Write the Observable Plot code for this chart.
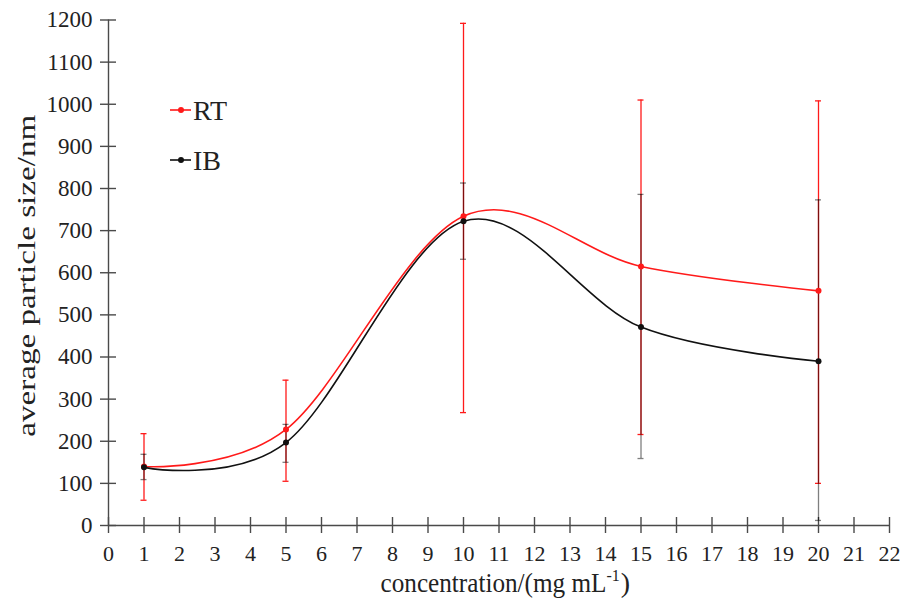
<!DOCTYPE html>
<html>
<head>
<meta charset="utf-8">
<script src="https://cdn.jsdelivr.net/npm/d3@7"></script>
<script src="https://cdn.jsdelivr.net/npm/@observablehq/plot@0.6"></script>
<style>
  html, body { margin: 0; padding: 0; background: #fff; }
  #wrap { position: relative; width: 914px; height: 598px; }
  #legend { position: absolute; left: 0; top: 0; }
  svg text { font-family: "Liberation Serif", "Times New Roman", serif !important; }
</style>
</head>
<body>
<div id="wrap"></div>
<script>
// ---- data ----
const concentration = [1, 5, 10, 15, 20];
const rtMean = [140, 228, 734, 615, 557];
const rtLow  = [60, 105, 268, 216, 100];
const rtHigh = [218, 345, 1192, 1010, 1008];
const ibMean = [138, 197, 722, 471, 390];
const ibLow  = [109, 150, 632, 159, 12];
const ibHigh = [169, 240, 813, 786, 773];
const seriesNames = ["RT", "IB"];
const seriesColors = ["#ff1a1a", "#111111"];
const xTicks = d3.range(0, 23, 1);
const yTicks = d3.range(0, 1201, 100);
const xLabel = "concentration/(mg mL-1)";
const yLabel = "average particle size/nm";

const rt = concentration.map((c, i) => ({x: c, y: rtMean[i], lo: rtLow[i], hi: rtHigh[i]}));
const ib = concentration.map((c, i) => ({x: c, y: ibMean[i], lo: ibLow[i], hi: ibHigh[i]}));

const axisColor = "#4a4a4a";
const font = "Liberation Serif";

const chart = Plot.plot({
  width: 914,
  height: 598,
  marginLeft: 108,
  marginRight: 25,
  marginTop: 19.5,
  marginBottom: 73,
  style: {fontFamily: font, background: "white"},
  x: {domain: [0, 22], axis: null},
  y: {domain: [0, 1200], axis: null},
  marks: [
    // axes lines
    Plot.ruleY([0], {stroke: axisColor, strokeWidth: 1.4}),
    Plot.ruleX([0], {stroke: axisColor, strokeWidth: 1.4}),
    // crossing ticks
    Plot.ruleX(xTicks, {x: d => d, y1: 0, y2: 0, insetTop: -8, insetBottom: -8, stroke: axisColor, strokeWidth: 1.4}),
    Plot.ruleY(yTicks, {y: d => d, x1: 0, x2: 0, insetLeft: -8, insetRight: -8, stroke: axisColor, strokeWidth: 1.4}),
    // tick labels
    Plot.text(xTicks, {x: d => d, y: 0, dy: 28, text: d => String(d), fontSize: 22, fontFamily: font, fill: "#222"}),
    Plot.text(yTicks, {x: 0, y: d => d, dx: -16, textAnchor: "end", text: d => String(d), fontSize: 23, fontFamily: font, fill: "#222"}),
    // axis titles
    Plot.text([xLabel], {frameAnchor: "bottom", dy: 66, text: d => d, fontSize: 28, fontFamily: font, fill: "#222"}),
    Plot.text([yLabel], {frameAnchor: "left", dx: -82, dy: 3, rotate: -90, text: d => d, fontSize: 25, fontFamily: font, fill: "#222"}),
    // RT error bars
    Plot.ruleX(rt, {x: "x", y1: "lo", y2: "hi", stroke: seriesColors[0], strokeWidth: 1.3}),
    Plot.ruleY(rt, {y: "lo", x1: "x", x2: "x", insetLeft: -3, insetRight: -3, stroke: seriesColors[0], strokeWidth: 1.3}),
    Plot.ruleY(rt, {y: "hi", x1: "x", x2: "x", insetLeft: -3, insetRight: -3, stroke: seriesColors[0], strokeWidth: 1.3}),
    // IB error bars (semi-transparent black)
    Plot.ruleX(ib, {x: "x", y1: "lo", y2: "hi", stroke: "#000", strokeOpacity: 0.5, strokeWidth: 1.3}),
    Plot.ruleY(ib, {y: "lo", x1: "x", x2: "x", insetLeft: -3, insetRight: -3, stroke: "#000", strokeOpacity: 0.5, strokeWidth: 1.3}),
    Plot.ruleY(ib, {y: "hi", x1: "x", x2: "x", insetLeft: -3, insetRight: -3, stroke: "#000", strokeOpacity: 0.5, strokeWidth: 1.3}),
    // smooth lines
    Plot.line(rt, {x: "x", y: "y", curve: "cardinal", tension: 0, stroke: seriesColors[0], strokeWidth: 1.6}),
    Plot.line(ib, {x: "x", y: "y", curve: "cardinal", tension: 0, stroke: seriesColors[1], strokeWidth: 1.6}),
    Plot.dot(rt, {x: "x", y: "y", r: 3, fill: seriesColors[0], stroke: "none"}),
    Plot.dot(ib, {x: "x", y: "y", r: 3, fill: seriesColors[1], stroke: "none"})
  ]
});

// superscript in x label, stretched y label
d3.select(chart).selectAll("text").each(function() {
  const t = d3.select(this);
  const s = t.text();
  if (s === xLabel) {
    t.text(null).attr("y", 0).attr("text-anchor", "start").attr("x", -118.5);
    t.append("tspan").attr("textLength", 226).attr("lengthAdjust", "spacingAndGlyphs").text("concentration/(mg mL");
    t.append("tspan").attr("font-size", 16).attr("dy", -11).text("-1");
    t.append("tspan").attr("dy", 11).attr("dx", 1).text(")");
  }
  if (s === yLabel) {
    t.attr("text-anchor", "start").attr("x", -161)
     .attr("textLength", 322).attr("lengthAdjust", "spacingAndGlyphs");
  }
});

const wrap = document.getElementById("wrap");
wrap.appendChild(chart);

// legend overlay
const leg = d3.create("svg").attr("id", "legend").attr("width", 300).attr("height", 200);
const items = [
  {name: seriesNames[0], color: seriesColors[0], y: 110},
  {name: seriesNames[1], color: seriesColors[1], y: 160}
];
for (const it of items) {
  leg.append("line").attr("x1", 170).attr("x2", 191).attr("y1", it.y).attr("y2", it.y)
    .attr("stroke", it.color).attr("stroke-width", 1.6);
  leg.append("circle").attr("cx", 181).attr("cy", it.y).attr("r", 3).attr("fill", it.color);
  leg.append("text").attr("x", 193).attr("y", it.y + 9.5).attr("font-size", 28)
    .attr("fill", "#222").text(it.name);
}
wrap.appendChild(leg.node());
</script>
</body>
</html>
